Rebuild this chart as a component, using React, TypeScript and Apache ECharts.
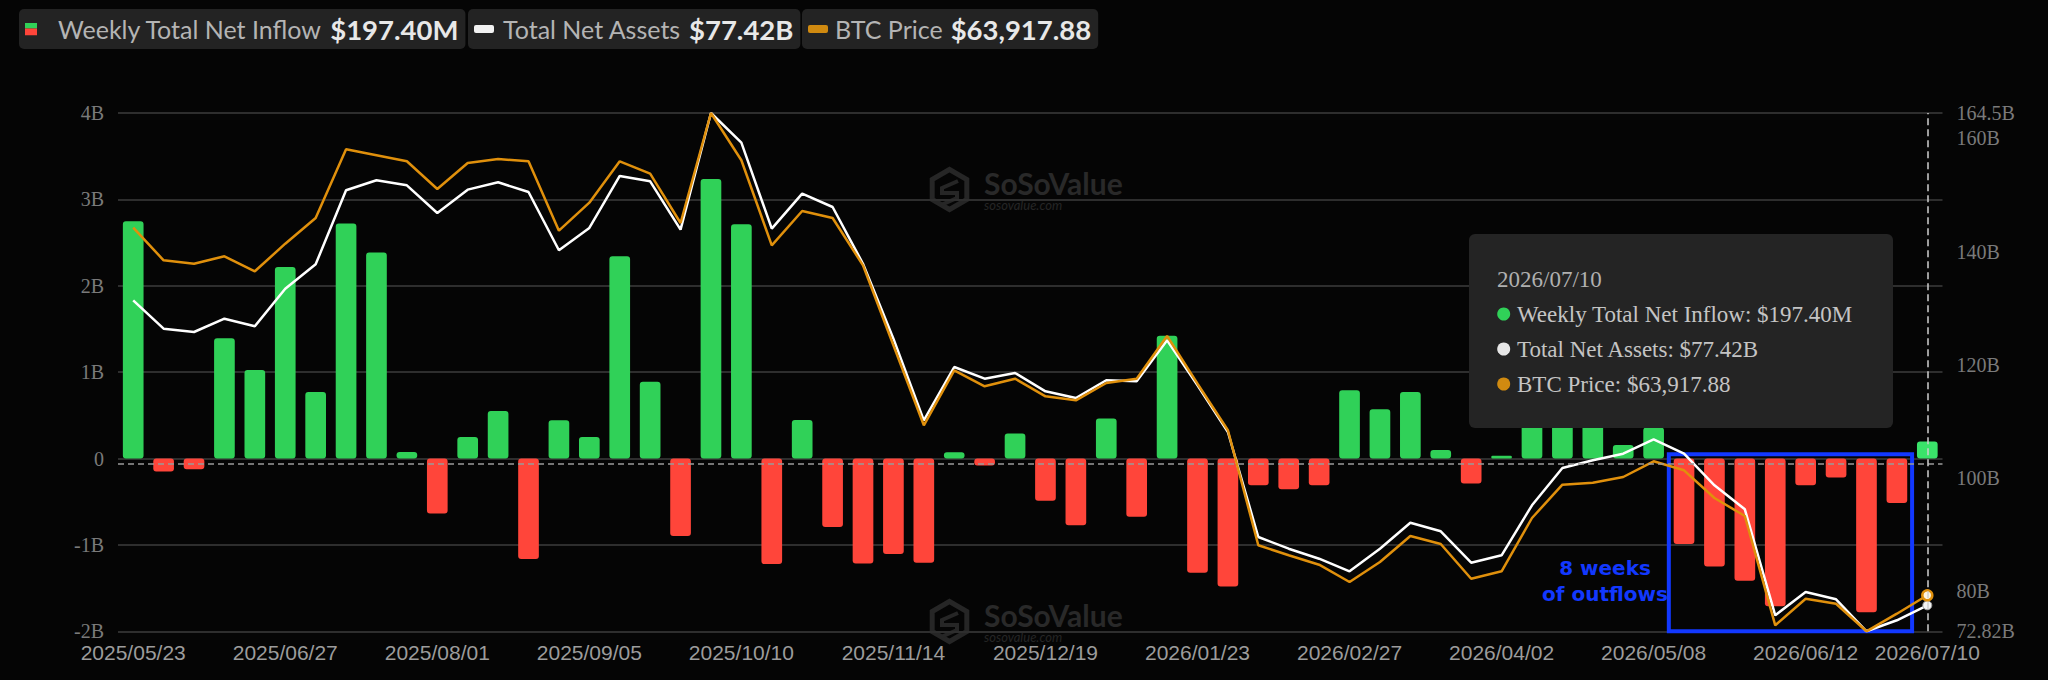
import React, { useEffect, useRef } from "react";
import * as echarts from "echarts";

// ---------------- data ----------------
const dates = [
  "2025/05/23", "2025/05/30", "2025/06/06", "2025/06/13", "2025/06/20",
  "2025/06/27", "2025/07/03", "2025/07/11", "2025/07/18", "2025/07/25",
  "2025/08/01", "2025/08/08", "2025/08/15", "2025/08/22", "2025/08/29",
  "2025/09/05", "2025/09/12", "2025/09/19", "2025/09/26", "2025/10/03",
  "2025/10/10", "2025/10/17", "2025/10/24", "2025/10/31", "2025/11/07",
  "2025/11/14", "2025/11/21", "2025/11/28", "2025/12/05", "2025/12/12",
  "2025/12/19", "2025/12/26", "2026/01/02", "2026/01/09", "2026/01/16",
  "2026/01/23", "2026/01/30", "2026/02/06", "2026/02/13", "2026/02/20",
  "2026/02/27", "2026/03/06", "2026/03/13", "2026/03/20", "2026/03/27",
  "2026/04/02", "2026/04/10", "2026/04/17", "2026/04/24", "2026/05/01",
  "2026/05/08", "2026/05/15", "2026/05/22", "2026/05/29", "2026/06/05",
  "2026/06/12", "2026/06/18", "2026/06/26", "2026/07/02", "2026/07/10",
];

// weekly total net inflow, billions USD
const weeklyNetInflow = [
  2.748, -0.15, -0.123, 1.391, 1.025, 2.216, 0.771, 2.721, 2.385, 0.077,
  -0.636, 0.25, 0.551, -1.164, 0.443, 0.25, 2.343, 0.89, -0.898, 3.237,
  2.713, -1.222, 0.447, -0.794, -1.214, -1.106, -1.206, 0.073, -0.081, 0.289,
  -0.489, -0.771, 0.462, -0.674, 1.422, -1.322, -1.48, -0.308, -0.355, -0.308,
  0.79, 0.57, 0.771, 0.1, -0.289, 0.031, 1.05, 0.95, 0.68, 0.158,
  0.36, -0.99, -1.249, -1.414, -1.711, -0.308, -0.22, -1.78, -0.516, 0.1974,
];

// total net assets, billions USD
const totalNetAssets = [
  131.37, 126.35, 125.76, 128.12, 126.77, 133.42, 137.74, 150.83, 152.6, 151.71,
  146.81, 150.94, 152.24, 150.53, 140.22, 144.16, 153.36, 152.42, 143.86, 164.5,
  159.25, 144.04, 150.23, 147.87, 137.84, 124.58, 110.14, 119.57, 117.5, 118.51,
  115.27, 114.09, 117.22, 117.04, 124.29, 116.34, 108.07, 89.5, 87.43, 85.66,
  83.43, 87.43, 92.03, 90.51, 84.95, 86.26, 95.11, 101.71, 103.07, 104.24,
  106.78, 104.24, 98.65, 94.4, 75.65, 79.77, 78.48, 72.82, 74.77, 77.42,
];

// BTC price, USD
const btcPrice = [
  108416, 104470, 104058, 104954, 103138, 106479, 109590, 117906, 117180, 116454,
  113100, 116248, 116732, 116454, 108053, 111442, 116454, 114952, 108985, 122300,
  116575, 106285, 110437, 109590, 103864, 94180, 84496, 91154, 89217, 90137,
  88007, 87523, 89617, 90137, 95306, 89532, 83891, 69970, 68760, 67622,
  65528, 67949, 71096, 70128, 65927, 66823, 73275, 77306, 77548, 78238,
  80139, 79049, 75696, 73517, 60286, 63506, 62901, 59560, 61690, 63917.88,
];

// axis ticks
const leftAxisMin = -2;
const leftAxisMax = 4;
const leftAxisStep = 1;
const rightAxisTicks = [80, 100, 120, 140, 160];
const xLabelEvery = 5;

// annotation: the streak of outflow weeks
const streakStart = "2026/05/15";
const streakEnd = "2026/07/02";
const streakBoxTop = 0.05;
const streakText = "8 weeks\nof outflows";
const dashedRefValue = -0.06;

// ---------------- style ----------------
const NAME_FLOW = "Weekly Total Net Inflow";
const NAME_ASSETS = "Total Net Assets";
const NAME_BTC = "BTC Price";
const BG = "#050505";
const GREEN = "#30D158";
const GREEN_HI = "#3AE36A";
const RED = "#FF453A";
const ORANGE = "#E0900C";
const ORANGE_DOT = "#D08A10";
const BLUE = "#1238FF";
const SERIF = '"Liberation Serif", "Times New Roman", serif';
const SANS = '"Liberation Sans", Arial, sans-serif';

const fmtFlow = (v: number) =>
  Math.abs(v) < 1 ? `$${(v * 1000).toFixed(2)}M` : `$${v.toFixed(2)}B`;
const fmtAssets = (v: number) => `$${v.toFixed(2)}B`;
const fmtBtc = (v: number) =>
  "$" + v.toLocaleString("en-US", { minimumFractionDigits: 2, maximumFractionDigits: 2 });

const withZ = (els: any[], z: number) => els.map((e) => ({ ...e, z, silent: true }));

function buildOption() {
  const last = dates.length - 1;
  const assetsMin = Math.min(...totalNetAssets);
  const assetsMax = Math.max(...totalNetAssets);
  const barIcon =
    "image://data:image/svg+xml;charset=utf-8," +
    encodeURIComponent(
      `<svg xmlns="http://www.w3.org/2000/svg" width="12" height="13"><rect width="12" height="6" fill="${GREEN}"/><rect y="6" width="12" height="7" fill="${RED}"/></svg>`
    );

  const legendBase = {
    top: 9,
    orient: "horizontal",
    backgroundColor: "#232323",
    borderRadius: 5,
    padding: [6, 7, 6, 6],
    selectedMode: false,
  };
  const rich = (padLeft: number) => ({
    n: { fontFamily: "Lato", fontSize: 25, color: "#b4b4b4", lineHeight: 27, padding: [0, 0, 0, padLeft] },
    v: { fontFamily: "Lato", fontSize: 27.5, fontWeight: "bold", color: "#e8e8e8", lineHeight: 27, padding: [0, 0, 0, 8] },
  });

  const lastFlow = weeklyNetInflow[last];
  const lastAssets = totalNetAssets[last];
  const lastBtc = btcPrice[last];

  // watermark logo
  const watermark = (x: number, y: number) => ({
    type: "group",
    x,
    y,
    children: withZ(
      [
        {
          type: "polygon",
          shape: { points: [[19.5, 1.5], [36.8, 11.5], [36.8, 31.5], [19.5, 41.5], [2.2, 31.5], [2.2, 11.5]] },
          style: { fill: "none", stroke: "#262626", lineWidth: 5 },
        },
        {
          type: "polyline",
          shape: { points: [[28, 13], [12, 20], [12, 25], [27, 25], [27, 30], [11, 37]] },
          style: { fill: "none", stroke: "#262626", lineWidth: 4 },
        },
        {
          type: "text",
          x: 54,
          y: 15,
          style: { text: "SoSoValue", font: 'bold 30px "Lato"', fill: "#292929", textVerticalAlign: "middle", verticalAlign: "middle" },
        },
        {
          type: "text",
          x: 54,
          y: 37,
          style: { text: "sosovalue.com", font: 'italic 13px "Lato"', fill: "#262626", textVerticalAlign: "middle", verticalAlign: "middle" },
        },
      ],
      0
    ),
  });

  const tipRows = [
    { color: GREEN, text: `${NAME_FLOW}: ${fmtFlow(lastFlow)}` },
    { color: "#e6e6e6", text: `${NAME_ASSETS}: ${fmtAssets(lastAssets)}` },
    { color: ORANGE_DOT, text: `${NAME_BTC}: ${fmtBtc(lastBtc)}` },
  ];
  const tipFont = `23px ${SERIF}`;
  const tooltip = {
    type: "group",
    x: 1469,
    y: 234,
    children: withZ(
      [
        { type: "rect", shape: { x: 0, y: 0, width: 424, height: 194, r: 6 }, style: { fill: "#242424" } },
        {
          type: "text",
          x: 28,
          y: 45,
          style: { text: dates[last], font: tipFont, fill: "#b0b0b0", textVerticalAlign: "middle", verticalAlign: "middle" },
        },
        ...tipRows.flatMap((r, i) => [
          { type: "circle", shape: { cx: 34.7, cy: 80 + i * 35, r: 6.5 }, style: { fill: r.color } },
          {
            type: "text",
            x: 48,
            y: 80 + i * 35,
            style: { text: r.text, font: tipFont, fill: "#c4c4c4", textVerticalAlign: "middle", verticalAlign: "middle" },
          },
        ]),
      ],
      100
    ),
  };

  return {
    animation: false,
    backgroundColor: BG,
    legend: [
      {
        ...legendBase,
        left: 19,
        data: [{ name: NAME_FLOW, icon: barIcon }],
        itemWidth: 12,
        itemHeight: 13,
        formatter: (n: string) => `{n|${n}}{v|${fmtFlow(lastFlow)}}`,
        textStyle: { rich: rich(16) },
      },
      {
        ...legendBase,
        left: 468,
        data: [{ name: NAME_ASSETS, icon: "roundRect" }],
        itemWidth: 20,
        itemHeight: 8,
        formatter: (n: string) => `{n|${n}}{v|${fmtAssets(lastAssets)}}`,
        textStyle: { rich: rich(4) },
      },
      {
        ...legendBase,
        left: 802,
        data: [{ name: NAME_BTC, icon: "roundRect" }],
        itemWidth: 20,
        itemHeight: 8,
        formatter: (n: string) => `{n|${n}}{v|${fmtBtc(lastBtc)}}`,
        textStyle: { rich: rich(2) },
      },
    ],
    grid: { left: 118, right: 105.5, top: 113, bottom: 48.7, outerBoundsMode: "none" },
    xAxis: {
      type: "category",
      data: dates,
      boundaryGap: true,
      axisLine: { show: false, onZero: false },
      axisTick: { show: false, interval: 0 },
      splitLine: { show: false },
      axisLabel: {
        interval: (i: number) => i % xLabelEvery === 0 || i === last,
        color: "#9c9c9c",
        fontSize: 21,
        fontFamily: SANS,
        margin: 11,
      },
    },
    yAxis: [
      {
        type: "value",
        position: "left",
        min: leftAxisMin,
        max: leftAxisMax,
        interval: leftAxisStep,
        axisLine: { show: false },
        axisTick: { show: false },
        splitLine: { lineStyle: { color: "#2e2e2e", width: 2 } },
        axisLabel: {
          formatter: (v: number) => (v === 0 ? "0" : `${v}B`),
          color: "#7a7a7a",
          fontSize: 20,
          fontFamily: SERIF,
          margin: 14,
        },
      },
      {
        type: "value",
        position: "right",
        min: "dataMin",
        max: "dataMax",
        axisLine: { show: false },
        axisTick: { show: false },
        splitLine: { show: false },
        axisLabel: {
          customValues: [assetsMin, ...rightAxisTicks, assetsMax],
          formatter: (v: number) => `${parseFloat(v.toFixed(2))}B`,
          color: "#7a7a7a",
          fontSize: 20,
          fontFamily: SERIF,
          margin: 14,
        },
      },
      { type: "value", show: false, min: "dataMin", max: "dataMax" },
    ],
    series: [
      {
        name: NAME_FLOW,
        type: "bar",
        yAxisIndex: 0,
        barWidth: "68%",
        color: GREEN,
        emphasis: { disabled: true },
        data: weeklyNetInflow.map((v, i) => ({
          value: v,
          itemStyle: { color: v >= 0 ? (i === last ? GREEN_HI : GREEN) : RED, borderRadius: 3 },
        })),
        markLine: {
          silent: true,
          symbol: ["none", "none"],
          label: { show: false },
          data: [
            { yAxis: dashedRefValue, lineStyle: { color: "#9a9a9a", type: [6, 4], width: 1.5 } },
            { xAxis: dates[last], lineStyle: { color: "#cfcfcf", type: [7, 4], width: 1.5 } },
          ],
        },
        markArea: {
          silent: true,
          label: { show: false },
          itemStyle: { color: "rgba(0,0,0,0)", borderColor: BLUE, borderWidth: 4 },
          data: [[{ xAxis: streakStart, yAxis: streakBoxTop }, { xAxis: streakEnd, yAxis: leftAxisMin }]],
        },
      },
      {
        name: NAME_ASSETS,
        type: "line",
        yAxisIndex: 1,
        color: "#f2f2f2",
        symbol: "none",
        emphasis: { disabled: true },
        lineStyle: { color: "#ffffff", width: 2.5 },
        data: totalNetAssets.map((v, i) =>
          i === last
            ? { value: v, symbol: "circle", symbolSize: 9, itemStyle: { color: "#f4f4f4", borderColor: "#9a9a9a", borderWidth: 1 } }
            : v
        ),
        z: 3,
      },
      {
        name: NAME_BTC,
        type: "line",
        yAxisIndex: 2,
        color: ORANGE_DOT,
        symbol: "none",
        emphasis: { disabled: true },
        lineStyle: { color: ORANGE, width: 2.5 },
        data: btcPrice.map((v, i) =>
          i === last
            ? { value: v, symbol: "circle", symbolSize: 10, itemStyle: { color: "#fff4dd", borderColor: ORANGE, borderWidth: 2.5 } }
            : v
        ),
        z: 4,
      },
    ],
    graphic: [
      watermark(930, 168),
      watermark(930, 600),
      {
        type: "text",
        x: 1605,
        y: 581,
        z: 50,
        silent: true,
        style: {
          text: streakText,
          font: 'bold 20px "DejaVu Sans"',
          fill: BLUE,
          lineHeight: 26,
          textAlign: "center",
          align: "center",
          textVerticalAlign: "middle",
          verticalAlign: "middle",
        },
      },
      tooltip,
    ],
  };
}

export default function App() {
  const ref = useRef<HTMLDivElement>(null);
  useEffect(() => {
    const el = ref.current;
    if (!el) return;
    const chart = echarts.init(el, null, { renderer: "svg", width: 2048, height: 680 });
    chart.setOption(buildOption() as any);
    return () => chart.dispose();
  }, []);
  return (
    <div
      ref={ref}
      style={{ position: "fixed", left: 0, top: 0, width: 2048, height: 680, background: BG }}
    />
  );
}
